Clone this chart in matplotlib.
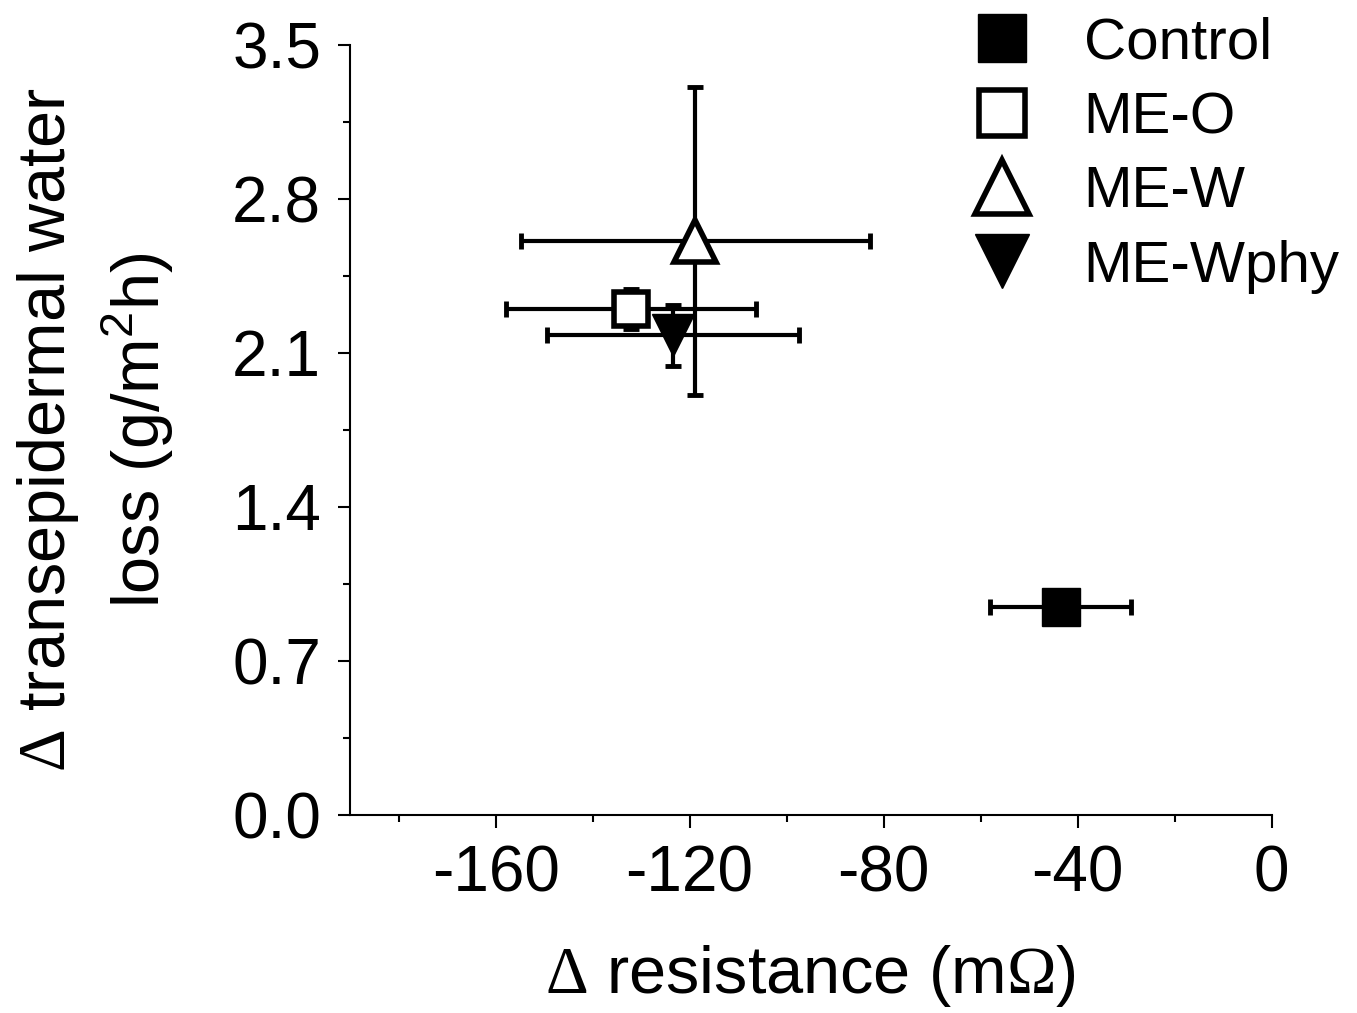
import matplotlib
matplotlib.use("Agg")
import matplotlib.pyplot as plt
from matplotlib.ticker import MultipleLocator

plt.rcParams['font.family'] = ['Liberation Sans', 'DejaVu Sans']
plt.rcParams['mathtext.fontset'] = 'custom'
plt.rcParams['mathtext.rm'] = 'Liberation Serif'
plt.rcParams['mathtext.sf'] = 'Liberation Sans'
plt.rcParams['axes.unicode_minus'] = False

# values
groups = ['Control', 'ME-O', 'ME-W', 'ME-Wphy']
resistance = [-43.5, -132.0, -118.8, -123.5]
resistance_err = [14.6, 25.8, 36.0, 26.0]
tewl = [0.945, 2.30, 2.61, 2.18]
tewl_err = [0.0, 0.09, 0.70, 0.14]

markers = ['s', 's', '^', 'v']
faces = ['black', 'white', 'white', 'black']
sizes = [27, 25, 30, 30]

fig = plt.figure(figsize=(13.57, 10.13), dpi=100)
ax = fig.add_axes([0.258, 0.1955, 0.679, 0.7601])

for i, g in enumerate(groups):
    ax.errorbar(resistance[i], tewl[i], xerr=resistance_err[i],
                yerr=tewl_err[i] if tewl_err[i] > 0 else None,
                fmt='none', ecolor='black', elinewidth=3, capsize=6, capthick=3.5, zorder=2)
    ax.plot(resistance[i], tewl[i], linestyle='none', marker=markers[i], markersize=sizes[i],
            markerfacecolor=faces[i], markeredgecolor='black', markeredgewidth=4 if faces[i] == 'white' else 1,
            label=g, zorder=3)

ax.set_xlim(-190, 0)
ax.set_ylim(0, 3.5)
ax.xaxis.set_major_locator(MultipleLocator(40))
ax.xaxis.set_minor_locator(MultipleLocator(20))
ax.yaxis.set_major_locator(MultipleLocator(0.7))
ax.yaxis.set_minor_locator(MultipleLocator(0.35))
ax.yaxis.set_major_formatter(plt.FuncFormatter(lambda v, p: f"{v:.1f}"))

for s in ['top', 'right']:
    ax.spines[s].set_visible(False)
for s in ['left', 'bottom']:
    ax.spines[s].set_linewidth(1.5)

ax.tick_params(which='major', direction='out', length=9, width=1.5, labelsize=46, pad=12)
ax.tick_params(which='minor', direction='out', length=5, width=1.5)

ax.set_xlabel(r'$\mathrm{\Delta}$ resistance (m$\mathrm{\Omega}$)', fontsize=48, labelpad=28)
ax.set_ylabel('$\\mathrm{\\Delta}$ transepidermal water\nloss (g/m$^{\\mathsf{2}}$h)',
              fontsize=48, labelpad=40, linespacing=1.3)

leg = ax.legend(loc='upper left', bbox_to_anchor=(0.603, 1.105), frameon=False, fontsize=42,
                markerscale=1.3, handletextpad=0.65, labelspacing=0.35, handlelength=1.5)

fig.savefig('out.png', dpi=100)
